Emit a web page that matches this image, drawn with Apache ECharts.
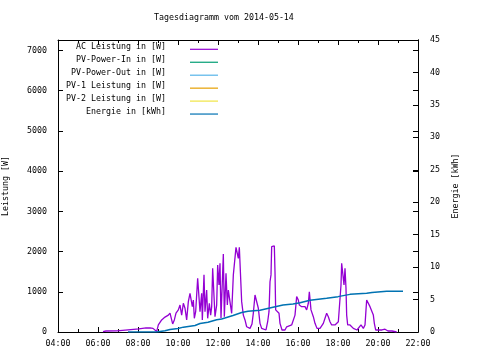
<!DOCTYPE html>
<html><head><meta charset="utf-8">
<script src="https://cdn.jsdelivr.net/npm/echarts@6/dist/echarts.min.js"></script>
<style>html,body{margin:0;padding:0;background:#fff}#c{width:480px;height:360px}</style>
</head><body><div id="c"></div>
<script>
const chartTitle = 'Tagesdiagramm vom 2014-05-14';
const xTickLabels = ['04:00','06:00','08:00','10:00','12:00','14:00','16:00','18:00','20:00','22:00'];
const leftAxisName = 'Leistung [W]';
const rightAxisName = 'Energie [kWh]';
const seriesNames = ['AC Leistung in [W]','PV-Power-In in [W]','PV-Power-Out in [W]','PV-1 Leistung in [W]','PV-2 Leistung in [W]','Energie in [kWh]'];
const seriesColors = ['#9400d3','#009e73','#56b4e9','#e69f00','#f0e442','#0072b2'];

const acTimes = ['06:15','06:24','06:57','07:00','07:30','07:33','08:03','08:06','08:24','08:30','08:36','08:45','08:51','08:56','09:01','09:11','09:21','09:31','09:36','09:41','09:44','09:49','09:54','10:01','10:06','10:11','10:16','10:21','10:26','10:31','10:36','10:41','10:43','10:46','10:49','10:53','10:59','11:03','11:06','11:11','11:13','11:18','11:21','11:26','11:29','11:34','11:38','11:41','11:44','11:48','11:51','11:56','11:59','12:03','12:06','12:09','12:16','12:19','12:24','12:28','12:31','12:36','12:41','12:46','12:51','12:54','12:59','13:01','13:04','13:09','13:11','13:16','13:21','13:26','13:31','13:36','13:42','13:46','13:51','13:56','14:01','14:06','14:11','14:15','14:24','14:29','14:33','14:36','14:39','14:41','14:49','14:51','14:53','14:59','15:03','15:06','15:12','15:21','15:26','15:30','15:41','15:46','15:51','15:56','16:01','16:04','16:11','16:16','16:21','16:26','16:31','16:34','16:39','16:43','16:46','16:51','16:57','17:06','17:11','17:16','17:21','17:26','17:31','17:36','17:41','17:51','17:56','18:01','18:06','18:09','18:11','18:16','18:18','18:21','18:24','18:26','18:29','18:33','18:36','18:41','18:46','18:51','18:57','19:03','19:09','19:16','19:21','19:24','19:26','19:31','19:36','19:41','19:46','19:49','19:53','20:00','20:12','20:16','20:21','20:26','20:30','20:42','20:46','20:56'];
const acWatts = [10,25,30,50,55,75,80,95,100,85,100,90,60,10,175,300,370,420,470,505,200,300,470,550,670,420,715,590,300,755,960,940,630,795,340,505,1335,1375,505,960,300,1420,505,1045,340,715,420,630,1585,1560,380,670,1665,1170,1710,340,1940,380,1460,670,1045,750,465,1420,1380,2105,2105,1830,2105,2105,755,420,300,130,90,90,200,470,920,880,590,215,90,50,50,255,505,1250,1420,2120,2140,1500,550,590,465,215,50,50,130,175,175,215,420,880,795,670,630,670,630,550,715,1000,550,505,380,215,90,90,130,215,340,465,380,255,175,175,215,255,215,1170,1710,1710,1170,1585,1085,420,175,130,175,130,90,50,50,90,175,90,175,550,795,760,630,590,420,215,50,50,50,90,70,50,25,25,10,0];

const energyTimes = ['07:30','08:56','08:57','09:21','09:36','10:00','10:16','10:51','11:06','11:30','11:56','12:11','12:45','13:11','13:30','14:06','14:45','15:15','15:45','16:06','16:36','17:26','18:00','18:36','19:26','19:42','20:26','21:15'];
const energyKWh = [0,0,0.1,0.2,0.4,0.55,0.75,1.0,1.3,1.5,1.9,2.0,2.55,3.0,3.2,3.35,3.8,4.15,4.3,4.5,4.9,5.2,5.45,5.8,5.96,6.1,6.27,6.27];

const pvInW = [], pvOutW = [], pv1W = [], pv2W = [];

const FONT = 'DejaVu Sans Mono';
const FS = 8.3;
function toH(s){const p=s.split(':');return +p[0]+(+p[1])/60;}
function zip(t,v){return t.map((s,i)=>[toH(s),v[i]]);}

const GL=58, GR=418, GT=40, GB=332;
const axisCommon = {
  axisLine:{show:true,onZero:false,lineStyle:{color:'#000',width:1}},
  axisTick:{show:true,inside:true,length:5,lineStyle:{color:'#000',width:1}},
  splitLine:{show:false}
};
const lbl = {color:'#000',fontFamily:FONT,fontSize:FS};

const xBase = {
  type:'value',min:4,max:22,interval:2,
  ...axisCommon,
  minorTick:{show:true,splitNumber:2,length:3,lineStyle:{color:'#000'}},
};

const legendGraphics = [];
seriesNames.forEach((n,i)=>{
  const ly = 49.3 + i*12.95;
  legendGraphics.push({type:'text',style:{text:n,x:166,y:ly-2.3,align:'right',verticalAlign:'middle',fill:'#000',font:FS+'px "'+FONT+'"'}});
  legendGraphics.push({type:'line',shape:{x1:190,y1:ly,x2:218,y2:ly},style:{stroke:seriesColors[i],lineWidth:1.2}});
});

const chart = echarts.init(document.getElementById('c'),null,{renderer:'canvas'});
chart.setOption({
  animation:false,
  backgroundColor:'#fff',
  title:{text:chartTitle,left:154,top:14,padding:0,textStyle:{color:'#000',fontFamily:FONT,fontSize:FS,fontWeight:'normal'}},
  grid:{left:GL,right:480-GR,top:GT,bottom:360-GB,containLabel:false,outerBoundsMode:'none'},
  xAxis:[
    {...xBase,position:'bottom',axisLabel:{...lbl,margin:8,formatter:v=>xTickLabels[Math.round((v-4)/2)]||''}},
    {...xBase,position:'top',axisLabel:{show:false}}
  ],
  yAxis:[
    {type:'value',min:0,max:7260,interval:1000,position:'left',...axisCommon,
     axisLabel:{...lbl,margin:11,showMaxLabel:false,formatter:v=>String(v)},
     name:leftAxisName,nameLocation:'middle',nameRotate:90,nameGap:48,nameTextStyle:{...lbl}},
    {type:'value',min:0,max:45,interval:5,position:'right',...axisCommon,
     axisLabel:{...lbl,margin:12,formatter:v=>String(v)},
     name:rightAxisName,nameLocation:'middle',nameRotate:90,nameGap:34,nameTextStyle:{...lbl}},
    {type:'value',min:0,max:7260,interval:1000,position:'right',...axisCommon,
     axisLabel:{show:false}}
  ],
  series:[
    {name:seriesNames[0],type:'line',xAxisIndex:0,yAxisIndex:0,data:zip(acTimes,acWatts),showSymbol:false,symbol:'none',lineStyle:{color:seriesColors[0],width:1.3},z:3},
    {name:seriesNames[1],type:'line',yAxisIndex:0,data:pvInW,showSymbol:false,lineStyle:{color:seriesColors[1]}},
    {name:seriesNames[2],type:'line',yAxisIndex:0,data:pvOutW,showSymbol:false,lineStyle:{color:seriesColors[2]}},
    {name:seriesNames[3],type:'line',yAxisIndex:0,data:pv1W,showSymbol:false,lineStyle:{color:seriesColors[3]}},
    {name:seriesNames[4],type:'line',yAxisIndex:0,data:pv2W,showSymbol:false,lineStyle:{color:seriesColors[4]}},
    {name:seriesNames[5],type:'line',xAxisIndex:0,yAxisIndex:1,data:zip(energyTimes,energyKWh),showSymbol:false,symbol:'none',lineStyle:{color:seriesColors[5],width:1.5},z:4}
  ],
  graphic:legendGraphics
});
</script></body></html>
